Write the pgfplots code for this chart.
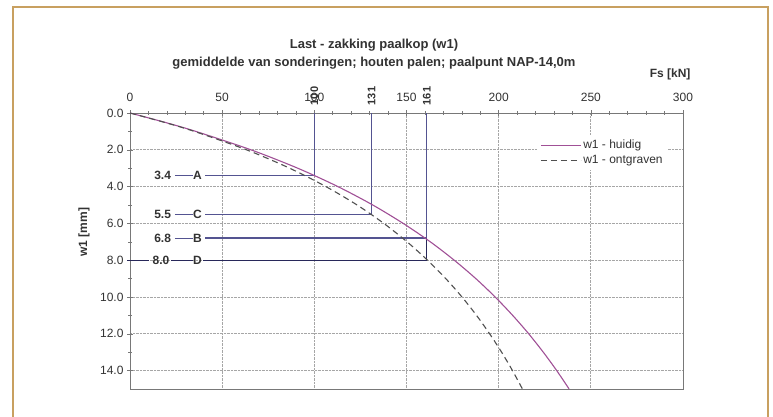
\documentclass[border=0pt]{standalone}
\usepackage{pgfplots}
\pgfplotsset{compat=1.18}
\usepackage{fontspec}
\setmainfont{Liberation Sans}
\definecolor{frame}{RGB}{200,160,96}
\definecolor{refline}{RGB}{84,84,145}
\definecolor{refdark}{RGB}{40,40,90}
\definecolor{huidigc}{RGB}{160,80,150}
\definecolor{ontgr}{RGB}{80,80,80}
\definecolor{txt}{RGB}{50,50,50}
\definecolor{axgray}{RGB}{120,120,120}
\begin{document}
\begin{tikzpicture}
\useasboundingbox (0pt,0pt) rectangle (773pt,-417pt);
\draw[frame, line width=1.5pt] (13pt,-7pt) rectangle (768pt,-440pt);
\node[font=\fontsize{13}{15}\selectfont\bfseries, text=txt] at (374pt,-45pt) {Last - zakking paalkop (w1)};
\node[font=\fontsize{13}{15}\selectfont\bfseries, text=txt] at (374pt,-63pt) {gemiddelde van sonderingen; houten palen; paalpunt NAP-14,0m};
\node[font=\fontsize{12}{14}\selectfont\bfseries, text=txt, anchor=east] at (694pt,-74pt) {Fs [kN]};
\node[font=\fontsize{12}{14}\selectfont\bfseries, text=txt, rotate=90] at (84pt,-232pt) {w1 [mm]};
\begin{axis}[
  at={(130pt,-389pt)}, anchor=south west,
  scale only axis, width=553pt, height=276pt,
  xmin=0, xmax=300, ymin=0, ymax=15,
  y dir=reverse,
  clip=false,
  xtick={0,50,...,300}, ytick={0,2,...,14},
  minor x tick num=4, minor y tick num=1,
  xticklabel pos=upper, xtick pos=upper, ytick pos=left,
  tick align=center,
  major tick length=6pt, minor tick length=4pt,
  tick style={axgray, line width=0.6pt},
  axis line style={axgray, line width=1pt},
  grid=major,
  major grid style={gray!70, densely dotted, line width=0.8pt},
  /pgf/number format/assume math mode=true,
  ticklabel style={font=\fontsize{12}{14}\selectfont, text=txt},
  yticklabel style={/pgf/number format/.cd, fixed, fixed zerofill, precision=1},
  xticklabel style={yshift=5pt, /pgf/number format/.cd, fixed},
  legend style={at={(0.736,0.857)}, anchor=west, draw=none, fill=white,
    font=\fontsize{12}{14}\selectfont, inner sep=3pt,
    row sep=1pt, cells={anchor=west}},
]
\addlegendimage{legend image code/.code={\draw[color=huidigc, line width=1.1pt] (0pt,0pt) -- (40pt,0pt);}}
\addlegendentry{\textcolor{txt}{w1 - huidig}}
\addlegendimage{legend image code/.code={\draw[color=ontgr, line width=1.1pt, dash pattern=on 6pt off 4pt] (0pt,0pt) -- (40pt,0pt);}}
\addlegendentry{\textcolor{txt}{w1 - ontgraven}}
% reference lines
\addplot[refline, line width=1.3pt, forget plot] coordinates {(40.7,3.4) (100,3.4) (100,0)};
\addplot[refline, line width=1.3pt, forget plot] coordinates {(40.7,5.5) (131,5.5) (131,0)};
\addplot[refline, line width=1.3pt, forget plot] coordinates {(40.7,6.8) (161,6.8) (161,0)};
\addplot[refdark, line width=1.3pt, forget plot] coordinates {(39.6,8.0) (161,8.0) (161,6.8)};
\addplot[refline, line width=1.1pt, forget plot] coordinates {(24.4,3.4) (34,3.4)};
\addplot[refline, line width=1.1pt, forget plot] coordinates {(24.4,5.5) (34,5.5)};
\addplot[refline, line width=1.1pt, forget plot] coordinates {(24.4,6.8) (34,6.8)};
\addplot[refdark, line width=1.1pt, forget plot] coordinates {(22.5,8.0) (34,8.0)};
\addplot[refdark, line width=1.1pt, forget plot] coordinates {(-1.5,8.0) (10.5,8.0)};
% curves
\addplot[huidigc, line width=1.1pt, smooth, forget plot] coordinates {
(0,0) (18.7,0.5) (35.7,1) (65.6,2) (91.0,3) (112.8,4) (131.7,5) (148.2,6) (162.9,7)
(175.9,8) (187.6,9) (198.1,10) (207.6,11) (216.3,12) (224.2,13) (231.5,14) (238.2,15)};
\addplot[ontgr, line width=1.1pt, dash pattern=on 6pt off 4pt, smooth, forget plot] coordinates {
(0,0) (18.4,0.5) (34.9,1) (63.2,2) (86.6,3) (106.3,4) (123.2,5) (137.7,6) (150.3,7)
(161.4,8) (171.3,9) (180.1,10) (188.0,11) (195.1,12) (201.6,13) (207.5,14) (212.9,15)};
% labels
\node[font=\fontsize{12}{14}\selectfont\bfseries, text=txt] at (axis cs:17.7,3.4) {3.4};
\node[font=\fontsize{12}{14}\selectfont\bfseries, text=txt] at (axis cs:17.7,5.5) {5.5};
\node[font=\fontsize{12}{14}\selectfont\bfseries, text=txt] at (axis cs:17.7,6.8) {6.8};
\node[font=\fontsize{12}{14}\selectfont\bfseries, text=txt] at (axis cs:16.8,8.0) {8.0};
\node[font=\fontsize{12}{14}\selectfont\bfseries, text=txt] at (axis cs:36.6,3.4) {A};
\node[font=\fontsize{12}{14}\selectfont\bfseries, text=txt] at (axis cs:36.6,5.5) {C};
\node[font=\fontsize{12}{14}\selectfont\bfseries, text=txt] at (axis cs:36.6,6.8) {B};
\node[font=\fontsize{12}{14}\selectfont\bfseries, text=txt] at (axis cs:36.6,8.0) {D};
\node[font=\fontsize{11}{13}\selectfont\bfseries, text=txt, yshift=17pt, rotate=90] at (axis cs:100,0) {100};
\node[font=\fontsize{11}{13}\selectfont\bfseries, text=txt, yshift=17pt, rotate=90] at (axis cs:131,0) {131};
\node[font=\fontsize{11}{13}\selectfont\bfseries, text=txt, yshift=17pt, rotate=90] at (axis cs:161,0) {161};
\end{axis}
\end{tikzpicture}
\end{document}
